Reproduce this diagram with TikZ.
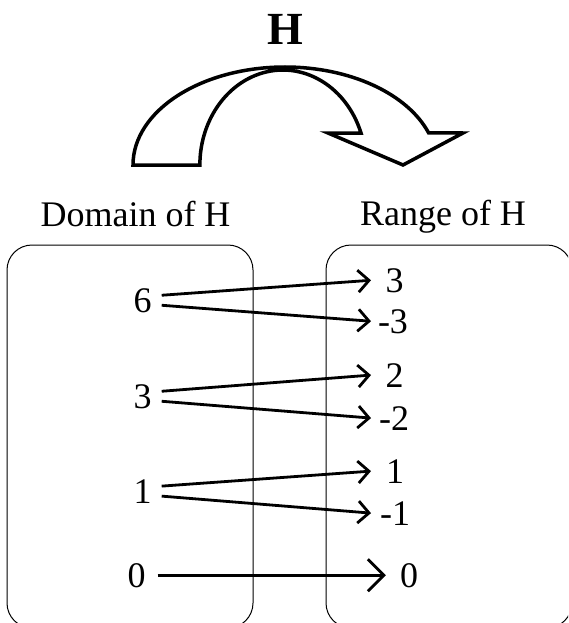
\documentclass[tikz,border=0pt]{standalone}
\usepackage{fontspec}
\setmainfont{Liberation Serif}
\usetikzlibrary{arrows.meta}
\usetikzlibrary{calc}

\begin{document}
\begin{tikzpicture}[x=1pt,y=-1pt,
    setbox/.style={line width=1pt, rounded corners=25pt},
    num/.style={inner sep=0pt, anchor=base, font=\fontsize{36}{40}\selectfont},
    maparrow/.style={line width=2.8pt, -{Straight Barb[length=11pt,width=22pt]}},
    bigarrow/.style={line width=2.8pt, -{Straight Barb[length=16pt,width=32pt]}},
    bendarrow/.style={line width=3.5pt, line join=miter}]
      \useasboundingbox (0,0) rectangle (568,623);
      \begin{scope}
      \clip (0,0) rectangle (568,623);

      % Title and curved arrow
      \node[inner sep=0pt, anchor=base, font=\fontsize{46}{50}\selectfont\bfseries] (title) at (285.5,45) {H};
      \draw[bendarrow] (133,165) arc[start angle=-180, end angle=-19.1, x radius=152, y radius=98]
        -- (463,133) -- (403,165) -- (328,133) -- (361,133)
        arc[start angle=-19.7, end angle=-180, x radius=83, y radius=95] -- cycle;

      % Sets
      \node[num] (domain) at (135.5,226) {Domain of H};
      \node[num] (range) at (443,225) {Range of H};
      \draw[setbox] (7,245) rectangle (253,628);
      \draw[setbox] (326,245) rectangle (572,628);
      \end{scope}

      % Domain values
      \node[num] (d6) at (142.5,312) {6};
      \node[num] (d3) at (142.5,408) {3};
      \node[num] (d1) at (142.5,503) {1};
      \node[num] (d0) at (136.5,587) {0};

      % Range values
      \node[num] (r3) at (394.5,292) {3};
      \node[num] (rm3) at (393,333) {-3};
      \node[num] (r2) at (394.5,387) {2};
      \node[num] (rm2) at (394,430) {-2};
      \node[num] (r1) at (395,483) {1};
      \node[num] (rm1) at (395,525) {-1};
      \node[num] (r0) at (409,587) {0};

      % Mapping
      \coordinate (tip) at (371,0);
      \foreach \a/\b/\dy in {d6/r3/-5, d6/rm3/5, d3/r2/-5, d3/rm2/5, d1/r1/-5, d1/rm1/5}
      {
        \draw[maparrow] ($(\a.east)+(10,\dy)$) -- (\b.west -| tip);
      }
      \draw[bigarrow] ($(d0.east)+(12,0)$) -- ($(r0.west)+(-14,0)$);
  \end{tikzpicture}
\end{document}
